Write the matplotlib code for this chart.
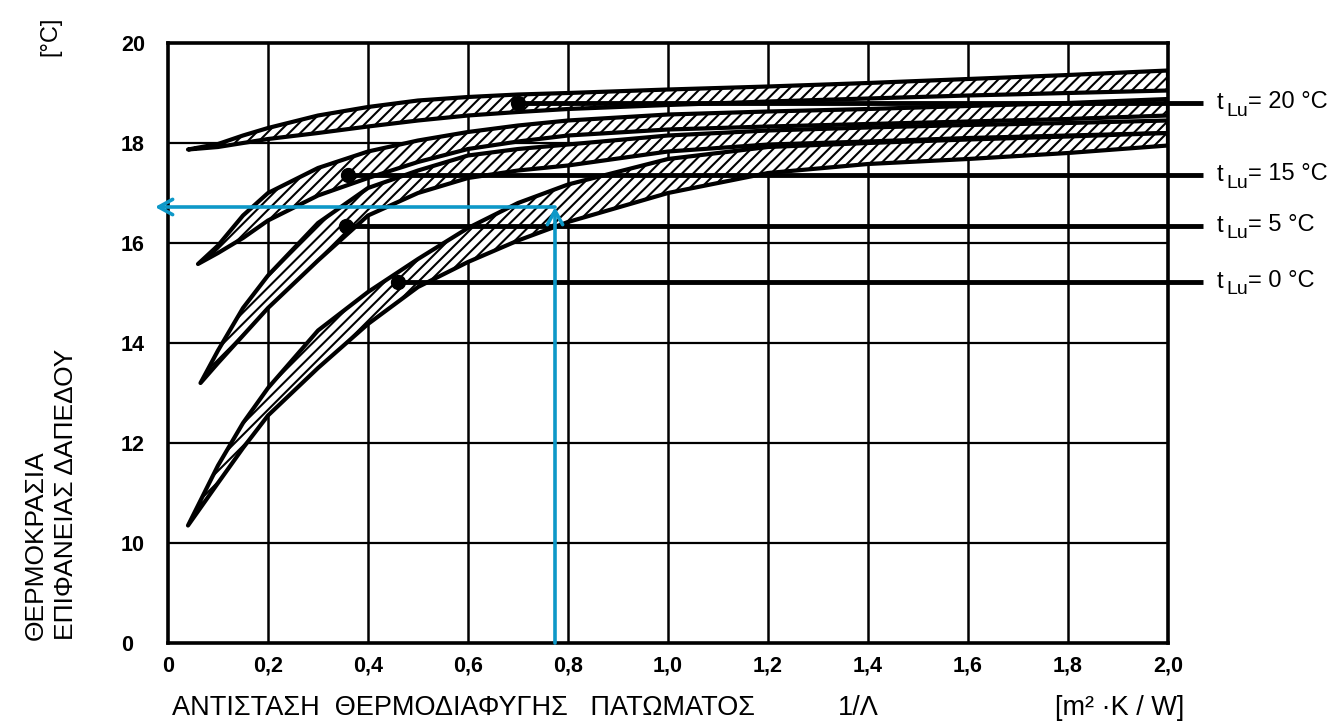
import matplotlib.pyplot as plt
from matplotlib.transforms import offset_copy
import numpy as np

plt.rcParams['font.family'] = ['Liberation Sans', 'DejaVu Sans']
plt.rcParams['hatch.linewidth'] = 1.5
plt.rcParams['hatch.color'] = 'black'

# x positions (1/Λ) where band edges were read
xs = [0.1, 0.15, 0.2, 0.3, 0.4, 0.5, 0.6, 0.7, 0.8, 1.0, 1.2, 1.4, 1.6, 1.8, 2.0]

# band tLu = 20 °C
tip_20 = (0.04, 17.87)
up_20 = [17.98, 18.15, 18.3, 18.55, 18.72, 18.85, 18.92, 18.97, 19.0, 19.07, 19.13, 19.2, 19.28, 19.36, 19.45]
lo_20 = [17.92, 18.0, 18.08, 18.2, 18.33, 18.45, 18.55, 18.62, 18.68, 18.76, 18.83, 18.89, 18.95, 19.0, 19.05]

# band tLu = 15 °C
tip_15 = (0.06, 15.58)
up_15 = [15.95, 16.55, 17.0, 17.5, 17.83, 18.05, 18.22, 18.35, 18.45, 18.57, 18.63, 18.68, 18.74, 18.8, 18.88]
lo_15 = [15.8, 16.1, 16.45, 16.95, 17.3, 17.62, 17.88, 18.03, 18.15, 18.27, 18.33, 18.38, 18.43, 18.48, 18.55]

# band tLu = 5 °C
tip_5 = (0.065, 13.2)
up_5 = [13.85, 14.7, 15.35, 16.4, 17.1, 17.45, 17.75, 17.88, 17.97, 18.15, 18.25, 18.31, 18.36, 18.4, 18.45]
lo_5 = [13.6, 14.15, 14.7, 15.65, 16.55, 17.0, 17.3, 17.45, 17.55, 17.83, 17.97, 18.03, 18.1, 18.15, 18.2]

# band tLu = 0 °C
tip_0 = (0.04, 10.35)
up_0 = [11.55, 12.4, 13.1, 14.25, 15.02, 15.68, 16.3, 16.8, 17.17, 17.68, 17.92, 18.0, 18.07, 18.13, 18.2]
lo_0 = [11.2, 11.9, 12.55, 13.5, 14.38, 15.12, 15.62, 16.05, 16.42, 17.0, 17.4, 17.58, 17.68, 17.8, 17.95]

# reference lines for each room temperature
t_lu = [20, 15, 5, 0]
line_start_x = [0.70, 0.36, 0.355, 0.46]
line_y = [18.8, 17.35, 16.34, 15.22]

# example reading (blue arrows)
ex_r = 0.774
ex_t = 16.72

x_ticks = [0, 0.2, 0.4, 0.6, 0.8, 1.0, 1.2, 1.4, 1.6, 1.8, 2.0]
x_tick_labels = ['0', '0,2', '0,4', '0,6', '0,8', '1,0', '1,2', '1,4', '1,6', '1,8', '2,0']
# bottom of the axis is a broken scale: "0" sits where 8 would be
y_ticks = [8, 10, 12, 14, 16, 18, 20]
y_tick_labels = ['0', '10', '12', '14', '16', '18', '20']

W, H = 1341, 726
fig = plt.figure(figsize=(W / 100, H / 100), dpi=100)
ax = fig.add_axes([168 / W, 1 - 643 / H, 1000 / W, 600 / H])
ax.set_xlim(0, 2.0)
ax.set_ylim(8, 20)

for xv in x_ticks[1:-1]:
    ax.axvline(xv, color='black', lw=1.8, zorder=1)
for yv in y_ticks[1:-1]:
    ax.axhline(yv, color='black', lw=1.6, zorder=1)

bands = [(tip_20, up_20, lo_20), (tip_15, up_15, lo_15),
         (tip_5, up_5, lo_5), (tip_0, up_0, lo_0)]
for tip, up, lo in bands:
    px = [tip[0]] + xs + xs[::-1]
    py = [tip[1]] + up + lo[::-1]
    ax.fill(px, py, facecolor='white', edgecolor='black', hatch='///',
            lw=3, joinstyle='round', zorder=3)

for x0, yv, t in zip(line_start_x, line_y, t_lu):
    ax.plot([x0, 2.07], [yv, yv], color='black', lw=3.5, zorder=4,
            clip_on=False, solid_capstyle='butt')
    ax.plot(x0, yv, 'o', color='black', ms=10, zorder=5)
    # label "t_Lu = .. °C" with a large subscript, as in the drawing
    ax.text(2.098, yv, 't', fontsize=17, va='center', ha='left', clip_on=False)
    ax.text(2.098, yv, 'Lu', fontsize=14, va='center', ha='left', clip_on=False,
            transform=offset_copy(ax.transData, fig=fig, x=9, y=-8, units='dots'))
    ax.text(2.098, yv, '= %d °C' % t, fontsize=17, va='center', ha='left',
            clip_on=False,
            transform=offset_copy(ax.transData, fig=fig, x=31, y=1, units='dots'))

blue = '#0d98c8'
head = '->,head_length=1.0,head_width=0.55'
ax.annotate('', xy=(ex_r, ex_t), xytext=(ex_r, 8), annotation_clip=False,
            arrowprops=dict(arrowstyle=head, color=blue, lw=2.6,
                            shrinkA=0, shrinkB=0), zorder=6)
ax.annotate('', xy=(-0.026, ex_t), xytext=(ex_r, ex_t), annotation_clip=False,
            arrowprops=dict(arrowstyle=head, color=blue, lw=2.6,
                            shrinkA=0, shrinkB=0), zorder=6)

ax.set_xticks(x_ticks)
ax.set_xticklabels(x_tick_labels, fontsize=15.5, fontweight='bold')
ax.set_yticks(y_ticks)
ax.set_yticklabels(y_tick_labels, fontsize=15.5, fontweight='bold', ha='left')
ax.tick_params(axis='x', length=0, pad=9)
ax.tick_params(axis='y', length=0, pad=34)
for s in ax.spines.values():
    s.set_linewidth(2.6)

fig.text(36 / W, 1 - 640 / H, 'ΘΕΡΜΟΚΡΑΣΙΑ', rotation=90, fontsize=19,
         ha='center', va='bottom')
fig.text(66 / W, 1 - 640 / H, 'ΕΠΙΦΑΝΕΙΑΣ ΔΑΠΕΔΟΥ', rotation=90, fontsize=19,
         ha='center', va='bottom')
fig.text(50 / W, 1 - 36 / H, '[°C]', rotation=90, fontsize=17,
         ha='center', va='center')
fig.text(172 / W, 1 - 708 / H, 'ΑΝΤΙΣΤΑΣΗ  ΘΕΡΜΟΔΙΑΦΥΓΗΣ   ΠΑΤΩΜΑΤΟΣ',
         fontsize=19.5, ha='left', va='center')
fig.text(838 / W, 1 - 708 / H, '1/Λ', fontsize=19.5, ha='left', va='center')
fig.text(1055 / W, 1 - 708 / H, '[m² ·K / W]', fontsize=19.5, ha='left', va='center')

fig.savefig('out.png', dpi=100)
